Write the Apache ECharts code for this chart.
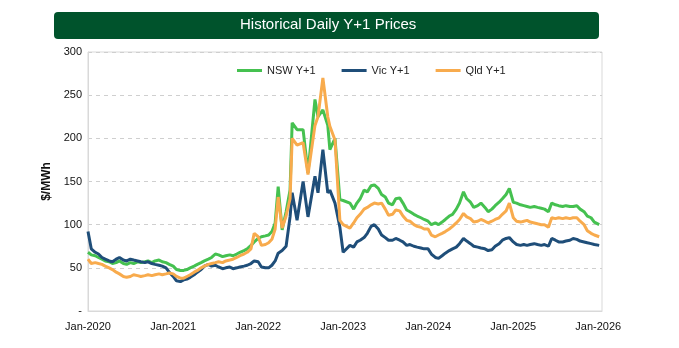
<!DOCTYPE html>
<html>
<head>
<meta charset="utf-8">
<script src="https://cdn.jsdelivr.net/npm/echarts@6/dist/echarts.min.js"></script>
<style>html,body{margin:0;padding:0;background:#fff}#c{width:679px;height:348px}</style>
</head>
<body>
<div id="c"></div>
<script>
const dates = [
'2020-01-01','2020-01-15','2020-02-01','2020-02-15','2020-03-01','2020-03-15','2020-04-01','2020-04-15','2020-05-01','2020-05-15','2020-06-01','2020-06-15',
'2020-07-01','2020-07-15','2020-08-01','2020-08-15','2020-09-01','2020-09-15','2020-10-01','2020-10-15','2020-11-01','2020-11-15','2020-12-01','2020-12-15',
'2021-01-01','2021-01-15','2021-02-01','2021-02-15','2021-03-01','2021-03-15','2021-04-01','2021-04-15','2021-05-01','2021-05-15','2021-06-01','2021-06-15',
'2021-07-01','2021-07-15','2021-08-01','2021-08-15','2021-09-01','2021-09-15','2021-10-01','2021-10-15','2021-11-01','2021-11-15','2021-12-01','2021-12-15',
'2022-01-01','2022-01-15','2022-02-01','2022-02-15','2022-03-01','2022-03-15','2022-03-28','2022-04-14','2022-05-01','2022-05-18','2022-05-27','2022-06-17',
'2022-07-13','2022-08-03','2022-09-02','2022-09-15','2022-10-06','2022-10-27','2022-11-05','2022-11-27','2022-12-18',
'2023-01-01','2023-01-30','2023-02-15','2023-03-01','2023-03-15','2023-04-01','2023-04-15','2023-05-01','2023-05-15','2023-06-01','2023-06-15',
'2023-07-01','2023-07-15','2023-08-01','2023-08-15','2023-09-01','2023-09-15','2023-10-01','2023-10-15','2023-11-01','2023-11-15','2023-12-01','2023-12-15',
'2024-01-01','2024-01-15','2024-02-01','2024-02-15','2024-03-01','2024-03-15','2024-04-01','2024-04-15','2024-05-01','2024-05-15','2024-06-01','2024-06-15',
'2024-07-01','2024-07-15','2024-08-01','2024-08-15','2024-09-01','2024-09-15','2024-10-01','2024-10-15','2024-11-01','2024-11-15','2024-12-01','2024-12-15',
'2025-01-01','2025-01-15','2025-02-01','2025-02-15','2025-03-01','2025-03-15','2025-04-01','2025-04-15','2025-05-01','2025-05-15','2025-06-01','2025-06-15',
'2025-07-01','2025-07-15','2025-08-01','2025-08-15','2025-09-01','2025-09-15','2025-10-01','2025-10-15','2025-11-01','2025-11-15','2025-12-01','2025-12-15',
'2026-01-05'
];
const nsw = [
68,65,64,62,60,58,57,55,56,58,55,54, 56,55,57,56,57,58,56,58,59,57,56,54,
52,48,47,47,48,50,52,54,56,58,60,62, 66,65,63,64,65,64,66,68,70,72,76,80,
84,86,87,88,92,102,144,94,115,140,218,210, 210,160,245,225,233,215,187,200,129,
128,125,118,125,130,140,138,145,146,142,135, 132,125,123,130,131,125,117,115,112,110,108,106,
104,100,102,100,103,106,110,112,118,125,138,130, 126,120,122,125,120,115,118,122,126,130,135,142,
126,125,123,122,121,120,121,120,119,118,115,125, 123,122,121,122,121,121,122,118,115,110,108,103,
100
];
const vic = [
92,72,68,66,62,60,58,57,60,62,59,58, 60,59,58,57,56,57,55,54,53,52,50,45,
40,35,34,36,37,39,42,45,48,52,54,52, 53,51,49,50,51,49,50,51,52,53,55,58,
57,51,50,50,53,58,67,70,75,109,137,105, 150,109,156,137,187,137,140,125,97,
68,76,74,80,82,85,90,98,100,95,88, 85,82,82,84,82,80,76,77,75,74,73,72,
72,66,62,61,64,67,70,72,74,78,84,81, 78,75,74,73,72,70,71,75,78,82,84,85,
80,77,76,77,76,77,78,77,76,77,75,84, 82,80,80,81,82,84,83,81,80,79,78,77,
76
];
const qld = [
60,55,56,55,54,52,50,48,45,43,40,39, 40,42,41,40,41,42,41,42,43,42,43,44,
43,40,38,38,40,42,45,47,50,52,54,55, 56,57,56,58,59,60,62,64,66,68,72,90,
86,76,77,79,83,95,132,96,110,130,200,192, 195,158,215,225,270,225,214,198,105,
100,96,102,108,112,118,120,123,125,124,125, 118,111,112,117,116,110,105,104,100,98,97,95,
95,88,86,88,90,92,95,98,102,106,113,109, 107,103,104,106,104,102,104,106,108,112,116,125,
108,104,103,104,105,103,102,101,100,100,97,108, 107,108,107,108,107,108,108,104,100,93,90,88,
86
];
const seriesNames = ['NSW Y+1','Vic Y+1','Qld Y+1'];
const seriesValues = [nsw, vic, qld];
const colors = ['#45c150','#1f4e79','#f8ab4d'];
const yTicks = ['-','50','100','150','200','250','300'];

const chart = echarts.init(document.getElementById('c'));
chart.setOption({
  animation:false,
  textStyle:{fontFamily:'Liberation Sans, Arial, sans-serif'},
  graphic:[
    {type:'rect', left:54, top:12, shape:{width:545, height:27, r:4}, style:{fill:'#00532c'}},
    {type:'text', left:240, top:17, style:{text:'Historical Daily Y+1 Prices', fill:'#fff', font:'15px Liberation Sans, Arial, sans-serif'}}
  ],
  legend:{
    top:60, left:232, itemWidth:25, itemHeight:3, itemGap:26,
    icon:'rect',
    textStyle:{fontSize:11, color:'#222'},
    data:seriesNames
  },
  grid:{left:88, right:77, top:52, bottom:37, show:true, borderColor:'#d9d9d9', borderWidth:1},
  xAxis:{
    type:'time',
    min:'2020-01-01', max:'2026-01-17',
    splitNumber:6,
    axisLine:{show:true, lineStyle:{color:'#d9d9d9'}},
    axisTick:{show:false},
    splitLine:{show:false},
    axisLabel:{
      color:'#111', fontSize:11, margin:10,
      formatter:function(v){ const d=new Date(v); return d.getMonth()===0 ? 'Jan-'+d.getFullYear() : ''; }
    }
  },
  yAxis:{
    type:'value', min:0, max:300, interval:50,
    name:'$/MWh', nameLocation:'middle', nameGap:34, nameRotate:90,
    nameTextStyle:{fontWeight:'bold', fontSize:12, color:'#111'},
    axisLine:{show:true, lineStyle:{color:'#d9d9d9'}},
    axisTick:{show:false},
    axisLabel:{color:'#111', fontSize:11, margin:6, formatter:function(v){ return yTicks[v/50]; }},
    splitLine:{show:true, lineStyle:{color:'#cfcfcf', type:[4,4]}}
  },
  series: seriesNames.map(function(n,k){
    return {
      name:n, type:'line', showSymbol:false, symbol:'none',
      lineStyle:{width:3, color:colors[k]}, itemStyle:{color:colors[k]},
      data: dates.map(function(d,i){ return [d, seriesValues[k][i]]; })
    };
  })
});
</script>
</body>
</html>
